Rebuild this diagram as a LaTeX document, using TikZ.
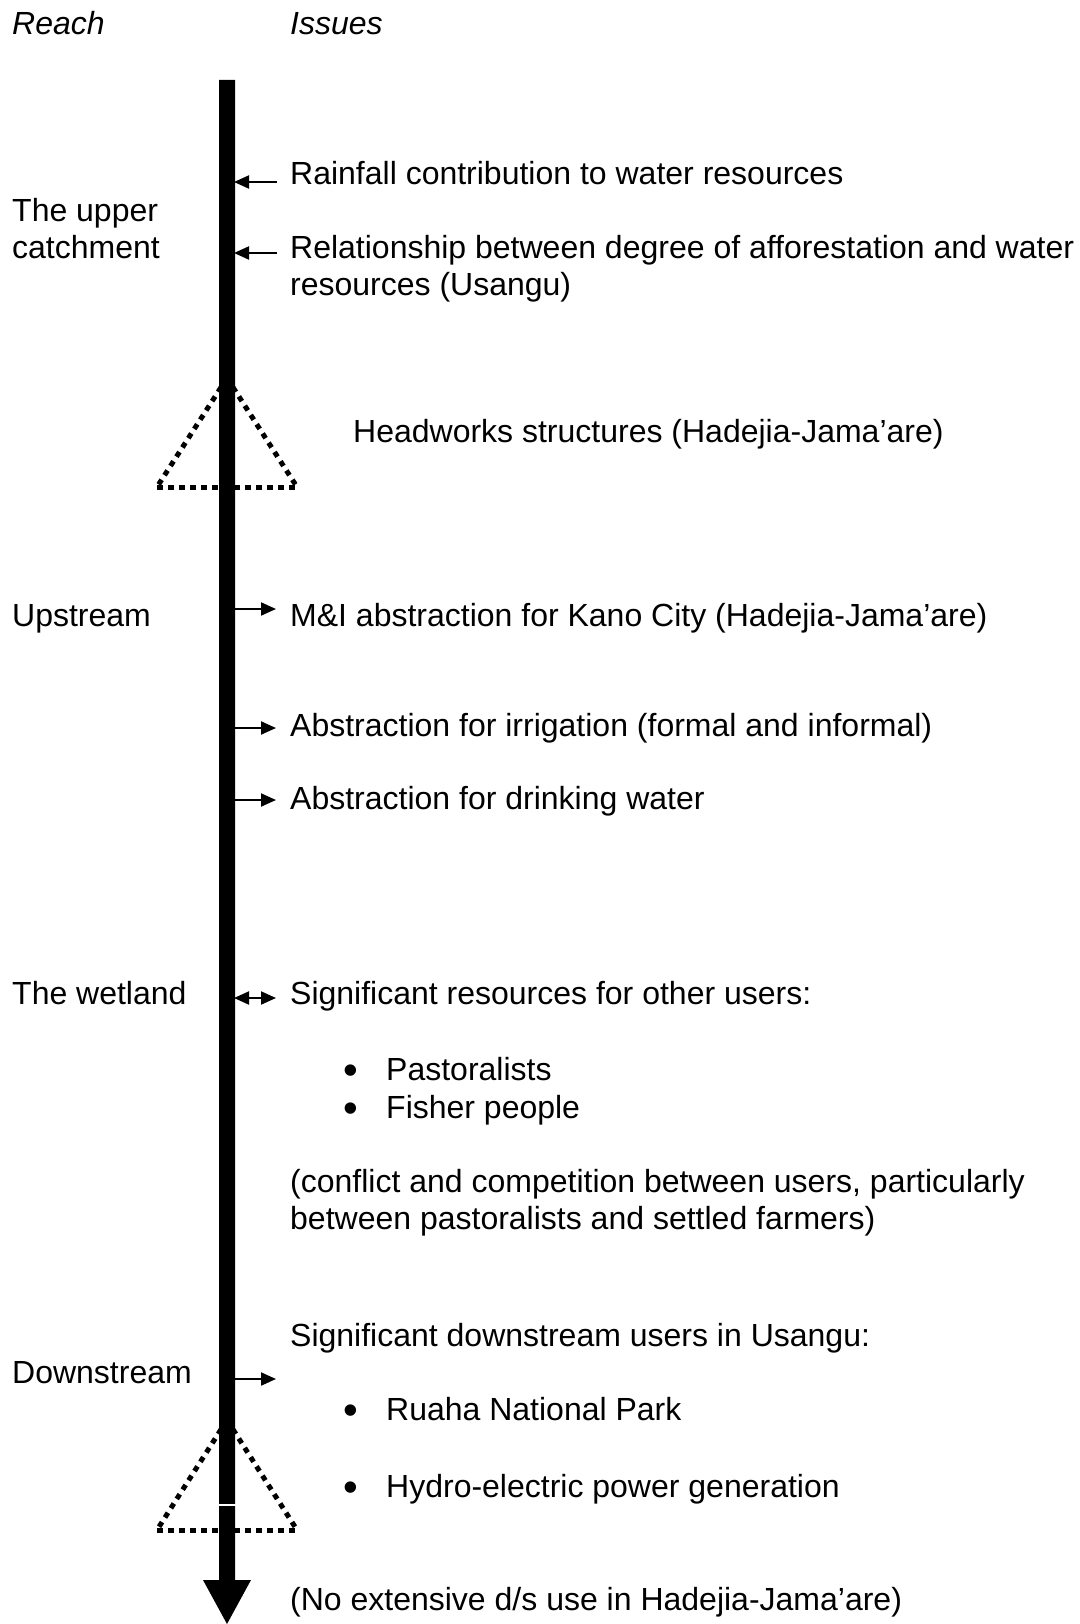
\documentclass[tikz,border=0pt]{standalone}
\usepackage{fontspec}
\setmainfont{Liberation Sans}
\usetikzlibrary{arrows.meta}
\begin{document}
\begin{tikzpicture}[x=1pt,y=-1pt,
  txt/.style={anchor=base west,inner sep=0pt,font=\fontsize{32}{36.8}\selectfont},
  itxt/.style={txt,font=\fontsize{32}{36.8}\selectfont\itshape},
  bul/.style={anchor=base west,inner sep=0pt,font=\fontsize{42}{42}\selectfont},
  sarrow/.style={line width=2pt,-{Triangle[length=15pt,width=13pt]}},
  darrow/.style={line width=2pt,{Triangle[length=15pt,width=13pt]}-{Triangle[length=15pt,width=13pt]}},
  tri/.style={line width=5pt,dash pattern=on 5.5pt off 5.5pt}]
\useasboundingbox (0,0) rectangle (1079,1624);
% triangles (behind the bar)
\coordinate (t1a) at (227,378);
\coordinate (t1l) at (157,487);
\coordinate (t1r) at (297,487);
\draw[tri] (t1a) -- (t1l);
\draw[tri] (t1a) -- (t1r);
\draw[tri] (t1l) -- (t1r);
\coordinate (t2a) at (227,1420);
\coordinate (t2l) at (157,1530);
\coordinate (t2r) at (297,1530);
\draw[tri] (t2a) -- (t2l);
\draw[tri] (t2a) -- (t2r);
\draw[tri] (t2l) -- (t2r);
% main bar with arrow head
\coordinate (bartop) at (227,80);
\coordinate (bartip) at (227,1624);
\fill[black] (219,80) -- (235,80) -- (235,1580) -- (251,1580) -- (bartip) -- (203,1580) -- (219,1580) -- cycle;
\draw[white,line width=2pt] (218,1505) -- (236,1505);
% headings
\node[itxt] (reach) at (12,34.5) {Reach};
\node[itxt] (issues) at (290,34.5) {Issues};
% left column
\node[txt] (upper1) at (12,221.5) {The upper};
\node[txt] (upper2) at (12,258.5) {catchment};
\node[txt] (upstream) at (12,626.5) {Upstream};
\node[txt] (wetland) at (12,1004.5) {The wetland};
\node[txt] (downstream) at (12,1383.5) {Downstream};
% issues
\node[txt] (rain) at (290,185) {Rainfall contribution to water resources};
\node[txt] (rel1) at (290,258.5) {Relationship between degree of afforestation and water};
\node[txt] (rel2) at (290,295.3) {resources (Usangu)};
\node[txt] (head) at (353,442.5) {Headworks structures (Hadejia-Jama’are)};
\node[txt] (mi) at (290,626.5) {M\&I abstraction for Kano City (Hadejia-Jama’are)};
\node[txt] (irr) at (290,736.5) {Abstraction for irrigation (formal and informal)};
\node[txt] (drink) at (290,809.5) {Abstraction for drinking water};
\node[txt] (sig) at (290,1004.5) {Significant resources for other users:};
\node[bul] (b1) at (343,1084) {•};
\node[txt] (past) at (386,1080.5) {Pastoralists};
\node[bul] (b2) at (343,1122) {•};
\node[txt] (fish) at (386,1118.5) {Fisher people};
\node[txt] (conf1) at (290,1192.5) {(conflict and competition between users, particularly};
\node[txt] (conf2) at (290,1229.3) {between pastoralists and settled farmers)};
\node[txt] (down1) at (290,1346.5) {Significant downstream users in Usangu:};
\node[bul] (b3) at (343,1424) {•};
\node[txt] (ruaha) at (386,1420.5) {Ruaha National Park};
\node[bul] (b4) at (343,1501) {•};
\node[txt] (hydro) at (386,1497.5) {Hydro-electric power generation};
\node[txt] (noext) at (290,1610.5) {(No extensive d/s use in Hadejia-Jama’are)};
% small arrows
\coordinate (a1s) at (277,182); \coordinate (a1e) at (234,182);
\draw[sarrow] (a1s) -- (a1e);
\coordinate (a2s) at (277,253); \coordinate (a2e) at (234,253);
\draw[sarrow] (a2s) -- (a2e);
\coordinate (a3s) at (235,609); \coordinate (a3e) at (276,609);
\draw[sarrow] (a3s) -- (a3e);
\coordinate (a4s) at (235,728); \coordinate (a4e) at (276,728);
\draw[sarrow] (a4s) -- (a4e);
\coordinate (a5s) at (235,800); \coordinate (a5e) at (276,800);
\draw[sarrow] (a5s) -- (a5e);
\coordinate (a6s) at (234,998); \coordinate (a6e) at (276,998);
\draw[darrow] (a6s) -- (a6e);
\coordinate (a7s) at (235,1379); \coordinate (a7e) at (276,1379);
\draw[sarrow] (a7s) -- (a7e);
\end{tikzpicture}
\end{document}
